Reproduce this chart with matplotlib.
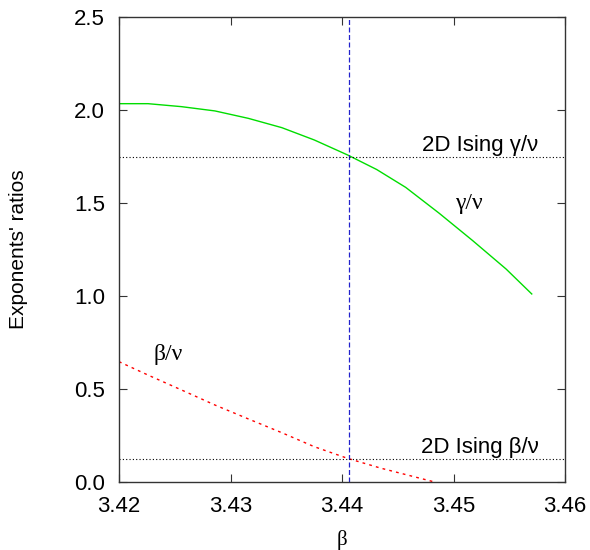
import numpy as np
import matplotlib.pyplot as plt

plt.rcParams['font.family'] = ['Liberation Sans', 'DejaVu Sans']

# gamma/nu curve
gamma_x = [3.4200, 3.4226, 3.4256, 3.4286, 3.4316, 3.4346, 3.4375, 3.4405,
           3.4431, 3.4457, 3.4487, 3.4517, 3.4547, 3.4570]
gamma_y = [2.034, 2.034, 2.018, 1.995, 1.955, 1.905, 1.839, 1.758,
           1.680, 1.584, 1.445, 1.298, 1.145, 1.011]

# beta/nu curve
beta_x = [3.4200, 3.4226, 3.4256, 3.4286, 3.4316, 3.4346, 3.4375, 3.4405, 3.4435, 3.4483]
beta_y = [0.647, 0.575, 0.495, 0.414, 0.339, 0.265, 0.190, 0.127, 0.074, 0.0]

beta_c = 3.4406
ising_gamma_nu = 1.75
ising_beta_nu = 0.125

fig = plt.figure(figsize=(5.9, 5.5), dpi=100)
ax = fig.add_axes([0.2017, 0.1236, 0.7563, 0.8455])

ax.plot(gamma_x, gamma_y, color="#00dd00", lw=1.0)
ax.plot(beta_x, beta_y, color="red", lw=1.0, linestyle=(0, (2, 3)))
ax.axvline(beta_c, color="#2222cc", lw=0.9, linestyle=(0, (4, 2)))
ax.axhline(ising_gamma_nu, color="black", lw=0.8, linestyle=(0, (1, 2)))
ax.axhline(ising_beta_nu, color="black", lw=0.8, linestyle=(0, (1, 2)))

greek = ['Liberation Serif', 'DejaVu Serif']
ax.text(3.4576, 1.81, "2D Ising γ/ν", ha="right", va="center", fontsize=16)
ax.text(3.4576, 0.183, "2D Ising β/ν", ha="right", va="center", fontsize=16)
ax.text(3.4514, 1.50, "γ/ν", ha="center", va="center", fontsize=17, family=greek)
ax.text(3.4244, 0.683, "β/ν", ha="center", va="center", fontsize=17, family=greek)

ax.set_xlim(3.42, 3.46)
ax.set_ylim(0, 2.5)
ax.set_xticks([3.42, 3.43, 3.44, 3.45, 3.46])
ax.set_yticks([0, 0.5, 1.0, 1.5, 2.0, 2.5])
ax.set_xticklabels(["3.42", "3.43", "3.44", "3.45", "3.46"])
ax.set_yticklabels(["0.0", "0.5", "1.0", "1.5", "2.0", "2.5"])
ax.tick_params(direction="in", length=6, top=True, right=True, labelsize=16, pad=10, color="#333333")
for s in ax.spines.values():
    s.set_color("#333333")
    s.set_linewidth(1.0)

ax.set_xlabel("β", fontsize=15, family=greek, va="top")
ax.set_ylabel("Exponents' ratios", fontsize=15)
ax.xaxis.set_label_coords(0.5, -0.104)
ax.yaxis.set_label_coords(-0.205, 0.5)

fig.savefig("out.png", dpi=100)
